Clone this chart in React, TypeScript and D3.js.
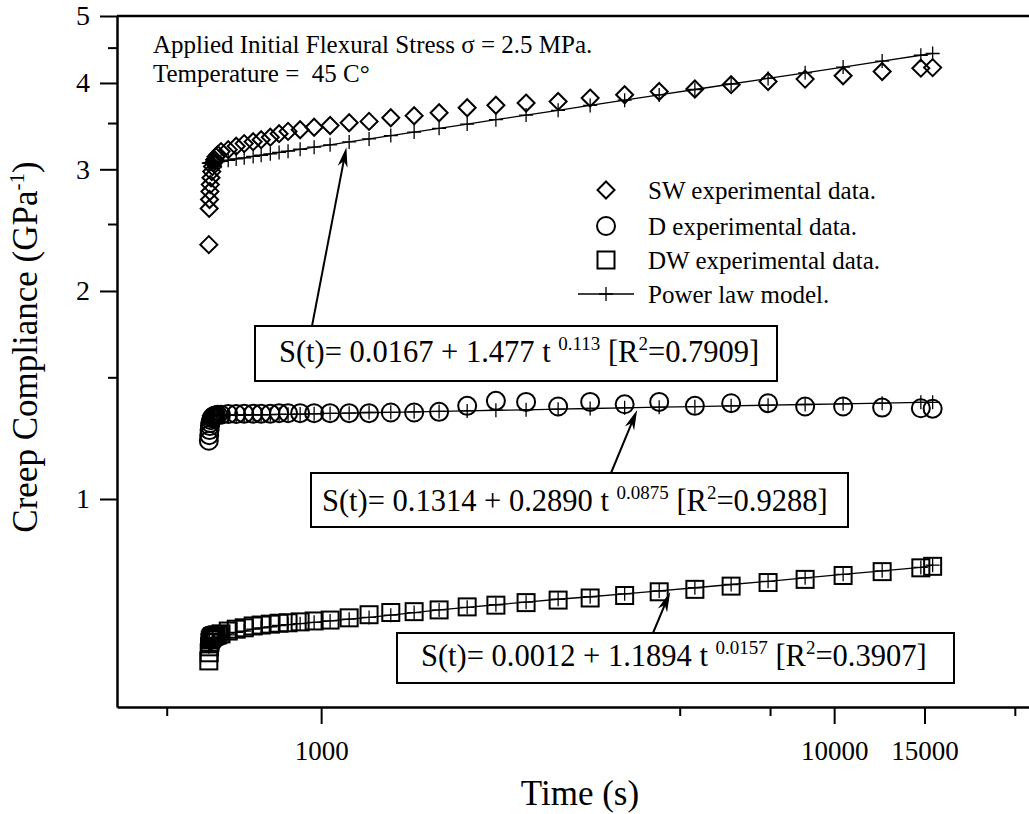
import React, { useEffect, useRef } from "react";
import * as d3 from "d3";

// sample times (s), shared by all three specimens
const times = [
  604, 605, 606, 607, 608, 610, 612, 614, 617, 620, 624, 629,
  638, 659, 683, 708, 737, 764, 796, 828, 862, 910, 969, 1041,
  1134, 1240, 1367, 1518, 1698, 1926, 2191, 2509, 2897, 3345,
  3905, 4560, 5352, 6298, 7434, 8779, 10411, 12405, 14757, 15560,
];

const swData = [
  2.334, 2.633, 2.713, 2.786, 2.851, 2.917, 2.977, 3.027, 3.067, 3.097, 3.128, 3.149,
  3.182, 3.203, 3.24, 3.268, 3.289, 3.311, 3.339, 3.378, 3.404, 3.423, 3.451, 3.471,
  3.503, 3.519, 3.562, 3.586, 3.622, 3.683, 3.714, 3.741, 3.761, 3.804,
  3.846, 3.888, 3.92, 3.977, 4.02, 4.052, 4.097, 4.156, 4.202, 4.21,
];
const swModel = [
  3.062, 3.063, 3.064, 3.064, 3.065, 3.066, 3.067, 3.068, 3.07, 3.071, 3.074, 3.076,
  3.081, 3.092, 3.105, 3.117, 3.131, 3.144, 3.159, 3.173, 3.187, 3.207, 3.229, 3.255,
  3.287, 3.32, 3.357, 3.396, 3.439, 3.488, 3.539, 3.594, 3.652, 3.712,
  3.777, 3.844, 3.914, 3.986, 4.061, 4.138, 4.218, 4.302, 4.387, 4.413,
];

const dData = [
  1.214, 1.237, 1.258, 1.275, 1.288, 1.3, 1.309, 1.313, 1.318, 1.32, 1.322, 1.324,
  1.324, 1.327, 1.327, 1.329, 1.329, 1.329, 1.329, 1.331, 1.331, 1.331, 1.331, 1.331,
  1.331, 1.331, 1.334, 1.334, 1.337, 1.364, 1.387, 1.382, 1.361, 1.382,
  1.371, 1.382, 1.364, 1.376, 1.376, 1.361, 1.361, 1.356, 1.353, 1.351,
];
const dModel = [
  1.32, 1.32, 1.32, 1.32, 1.32, 1.321, 1.321, 1.321, 1.321, 1.321, 1.321, 1.321,
  1.322, 1.322, 1.323, 1.323, 1.324, 1.324, 1.325, 1.326, 1.326, 1.327, 1.328, 1.33,
  1.331, 1.334, 1.335, 1.337, 1.339, 1.341, 1.344, 1.346, 1.349, 1.352,
  1.355, 1.358, 1.36, 1.364, 1.367, 1.37, 1.373, 1.376, 1.38, 1.38,
];

const dwData = [
  0.583, 0.599, 0.611, 0.62, 0.625, 0.628, 0.63, 0.632, 0.633, 0.634, 0.635, 0.636,
  0.638, 0.644, 0.648, 0.651, 0.655, 0.657, 0.659, 0.661, 0.662, 0.664, 0.666, 0.668,
  0.673, 0.68, 0.685, 0.687, 0.691, 0.698, 0.702, 0.708, 0.714, 0.719,
  0.725, 0.734, 0.74, 0.748, 0.757, 0.765, 0.775, 0.785, 0.795, 0.799,
];
const dwModel = [
  0.611, 0.613, 0.614, 0.615, 0.616, 0.617, 0.618, 0.619, 0.622, 0.624, 0.626, 0.628,
  0.631, 0.636, 0.641, 0.644, 0.648, 0.651, 0.653, 0.656, 0.658, 0.66, 0.663, 0.666,
  0.67, 0.674, 0.679, 0.685, 0.691, 0.697, 0.703, 0.709, 0.716, 0.722,
  0.729, 0.736, 0.744, 0.752, 0.76, 0.769, 0.778, 0.787, 0.796, 0.802,
];

const yMajor = [1, 2, 3, 4, 5];
const yMinor = [1.5, 2.5, 3.5, 4.5];
const xMajor = [1000, 10000, 15000];
const xMinor = [500, 5000, 7500, 22500];

const legendLabels = [
  "SW experimental data.",
  "D experimental data.",
  "DW experimental data.",
  "Power law model.",
];

const eqMain = [
  "S(t)= 0.0167 + 1.477 t ",
  "S(t)= 0.1314 + 0.2890 t ",
  "S(t)= 0.0012 + 1.1894 t ",
];
const eqExp = ["0.113", "0.0875", "0.0157"];
const eqR2 = ["0.7909", "0.9288", "0.3907"];
// arrow tips in data units (time, compliance)
const eqTipT = [1120, 4130, 4790];
const eqTipS = [3.23, 1.345, 0.7335];

export default function App() {
  const ref = useRef<SVGSVGElement>(null);

  useEffect(() => {
    draw();
  }, []);

  const draw = () => {
    const svg = d3.select(ref.current);
    svg.selectAll("*").remove();
    const font = "'Liberation Serif', 'Times New Roman', serif";

    const x = d3.scaleLog().domain([400, 40000]).range([117, 1143]);
    const y = d3.scaleLog().domain([0.5, 5]).range([707, 16]);

    // top frame line
    svg
      .append("line")
      .attr("x1", 117)
      .attr("x2", 1029)
      .attr("y1", 16)
      .attr("y2", 16)
      .attr("stroke", "#000")
      .attr("stroke-width", 2.5);

    const styleAxis = (g: any, size: number) => {
      g.select(".domain").attr("stroke-width", 2.5);
      g.selectAll(".tick line").attr("stroke-width", 2);
      g.selectAll(".tick text")
        .attr("font-family", font)
        .attr("font-size", size)
        .attr("fill", "#000");
    };

    // y axis
    const yAxis = svg
      .append("g")
      .attr("transform", "translate(117,0)")
      .call(
        d3
          .axisLeft(y)
          .tickValues(yMajor)
          .tickSize(17)
          .tickSizeOuter(0)
          .tickPadding(10)
          .tickFormat(d3.format("d") as any)
      );
    styleAxis(yAxis, 28);
    const yAxisMinor = svg
      .append("g")
      .attr("transform", "translate(117,0)")
      .call(d3.axisLeft(y).tickValues(yMinor).tickSize(9).tickFormat(() => ""));
    yAxisMinor.select(".domain").remove();
    yAxisMinor.selectAll(".tick line").attr("stroke-width", 2);

    // x axis
    const xAxis = svg
      .append("g")
      .attr("transform", "translate(0,707)")
      .call(
        d3
          .axisBottom(x)
          .tickValues(xMajor)
          .tickSize(17)
          .tickSizeOuter(0)
          .tickPadding(17)
          .tickFormat(d3.format("d") as any)
      );
    styleAxis(xAxis, 27);
    const xAxisMinor = svg
      .append("g")
      .attr("transform", "translate(0,707)")
      .call(d3.axisBottom(x).tickValues(xMinor).tickSize(9).tickFormat(() => ""));
    xAxisMinor.select(".domain").remove();
    xAxisMinor.selectAll(".tick line").attr("stroke-width", 2);

    // axis titles
    svg
      .append("text")
      .attr("x", 580)
      .attr("y", 805)
      .attr("text-anchor", "middle")
      .attr("font-family", font)
      .attr("font-size", 35)
      .text("Time (s)");

    const yTitle = svg
      .append("text")
      .attr("transform", "translate(37,347) rotate(-90)")
      .attr("text-anchor", "middle")
      .attr("font-family", font)
      .attr("font-size", 35);
    yTitle.append("tspan").text("Creep Compliance (GPa");
    yTitle.append("tspan").attr("font-size", 21).attr("dy", -13).text("-1");
    yTitle.append("tspan").attr("dy", 13).text(")");

    // power law model lines with + markers
    const plus = "M-7,0H7M0,-7V7";
    const models = [swModel, dModel, dwModel];
    models.forEach((m) => {
      const line = d3
        .line<number>()
        .x((d, i) => x(times[i]))
        .y((d) => y(d));
      svg
        .append("path")
        .datum(m)
        .attr("d", line)
        .attr("fill", "none")
        .attr("stroke", "#000")
        .attr("stroke-width", 1.3);
      svg
        .append("g")
        .selectAll("path")
        .data(m)
        .enter()
        .append("path")
        .attr("transform", (d, i) => `translate(${x(times[i])},${y(d)})`)
        .attr("d", plus)
        .attr("fill", "none")
        .attr("stroke", "#000")
        .attr("stroke-width", 1.3);
    });

    // experimental data
    const diamond = "M0,-8.5L8.5,0L0,8.5L-8.5,0Z";
    svg
      .append("g")
      .selectAll("path")
      .data(swData)
      .enter()
      .append("path")
      .attr("transform", (d, i) => `translate(${x(times[i])},${y(d)})`)
      .attr("d", diamond)
      .attr("fill", "none")
      .attr("stroke", "#000")
      .attr("stroke-width", 2);

    svg
      .append("g")
      .selectAll("circle")
      .data(dData)
      .enter()
      .append("circle")
      .attr("cx", (d, i) => x(times[i]))
      .attr("cy", (d) => y(d))
      .attr("r", 9)
      .attr("fill", "none")
      .attr("stroke", "#000")
      .attr("stroke-width", 2);

    svg
      .append("g")
      .selectAll("rect")
      .data(dwData)
      .enter()
      .append("rect")
      .attr("x", (d, i) => x(times[i]) - 8.5)
      .attr("y", (d) => y(d) - 8.5)
      .attr("width", 17)
      .attr("height", 17)
      .attr("fill", "none")
      .attr("stroke", "#000")
      .attr("stroke-width", 2);

    // test conditions
    svg
      .append("text")
      .attr("x", 153)
      .attr("y", 53)
      .attr("font-family", font)
      .attr("font-size", 25)
      .text("Applied Initial Flexural Stress σ = 2.5 MPa.");
    svg
      .append("text")
      .attr("x", 153)
      .attr("y", 82)
      .attr("font-family", font)
      .attr("font-size", 25)
      .style("white-space", "pre")
      .text("Temperature =  45 C°");

    // legend
    const lg = svg.append("g").attr("font-family", font).attr("font-size", 25);
    const legY = [190, 226, 260, 294];
    lg.append("path")
      .attr("transform", `translate(606,${legY[0]})`)
      .attr("d", diamond)
      .attr("fill", "none")
      .attr("stroke", "#000")
      .attr("stroke-width", 2);
    lg.append("circle")
      .attr("cx", 606)
      .attr("cy", legY[1])
      .attr("r", 9)
      .attr("fill", "none")
      .attr("stroke", "#000")
      .attr("stroke-width", 2);
    lg.append("rect")
      .attr("x", 606 - 8.5)
      .attr("y", legY[2] - 8.5)
      .attr("width", 17)
      .attr("height", 17)
      .attr("fill", "none")
      .attr("stroke", "#000")
      .attr("stroke-width", 2);
    lg.append("line")
      .attr("x1", 578)
      .attr("x2", 634)
      .attr("y1", legY[3])
      .attr("y2", legY[3])
      .attr("stroke", "#000")
      .attr("stroke-width", 1.3);
    lg.append("path")
      .attr("transform", `translate(606,${legY[3]})`)
      .attr("d", plus)
      .attr("stroke", "#000")
      .attr("stroke-width", 1.3);
    legendLabels.forEach((l, i) => {
      lg.append("text")
        .attr("x", 648)
        .attr("y", legY[i] + 8.5)
        .text(l);
    });

    // equation boxes with arrows
    const boxes = [
      { x: 255, y: 326, w: 522, h: 55, bx: 312, tx: 279, ty: 362 },
      { x: 311, y: 473, w: 537, h: 54, bx: 611, tx: 322, ty: 511 },
      { x: 397, y: 633, w: 557, h: 50, bx: 653, tx: 421, ty: 666 },
    ];
    boxes.forEach((b, i) => {
      const tx = x(eqTipT[i]);
      const ty = y(eqTipS[i]);
      const x1 = b.bx;
      const y1 = b.y;
      const ang = Math.atan2(ty - y1, tx - x1);
      const c = Math.cos(ang);
      const s = Math.sin(ang);
      const len = 20;
      const half = 5;
      const notch = 14;
      svg
        .append("line")
        .attr("x1", x1)
        .attr("y1", y1)
        .attr("x2", tx - notch * c)
        .attr("y2", ty - notch * s)
        .attr("stroke", "#000")
        .attr("stroke-width", 2);
      const pts = [
        [tx, ty],
        [tx - len * c + half * s, ty - len * s - half * c],
        [tx - notch * c, ty - notch * s],
        [tx - len * c - half * s, ty - len * s + half * c],
      ];
      svg
        .append("polygon")
        .attr("points", pts.map((p) => p.join(",")).join(" "))
        .attr("fill", "#000");

      svg
        .append("rect")
        .attr("x", b.x)
        .attr("y", b.y)
        .attr("width", b.w)
        .attr("height", b.h)
        .attr("fill", "#fff")
        .attr("stroke", "#000")
        .attr("stroke-width", 2);

      const t = svg
        .append("text")
        .attr("x", b.tx)
        .attr("y", b.ty)
        .attr("font-family", font)
        .attr("font-size", 30.5)
        .style("white-space", "pre");
      t.append("tspan").text(eqMain[i]);
      t.append("tspan").attr("font-size", 19).attr("dy", -12).text(eqExp[i]);
      t.append("tspan").attr("dy", 12).text(" [R");
      t.append("tspan").attr("font-size", 19).attr("dy", -12).text("2");
      t.append("tspan").attr("dy", 12).text("=" + eqR2[i] + "]");
    });
  };

  return (
    <div style={{ position: "absolute", left: 0, top: 0 }}>
      <svg ref={ref} width={1029} height={814} style={{ display: "block", background: "#fff" }} />
    </div>
  );
}
